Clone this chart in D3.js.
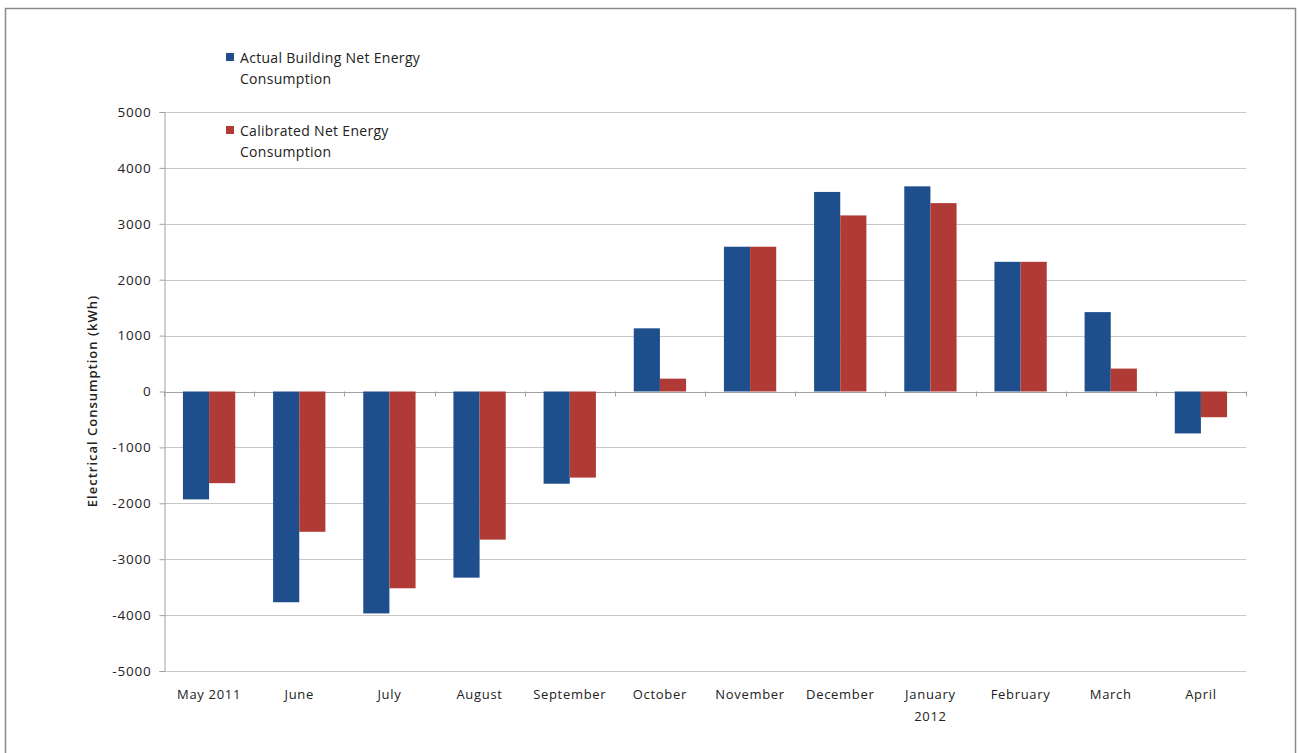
<!DOCTYPE html>
<html><head><meta charset="utf-8">
<script src="https://cdn.jsdelivr.net/npm/d3@7"></script>
<style>body{margin:0;background:#fff;} text{font-family:"Open Sans",Lato,sans-serif;}</style>
</head><body>
<svg id="c" width="1299" height="753"></svg>
<script>
const categories = ["May 2011","June","July","August","September","October","November","December","January\n2012","February","March","April"];
const actual = [-1930,-3770,-3970,-3330,-1650,1130,2590,3570,3670,2320,1420,-750];
const calibrated = [-1640,-2510,-3520,-2650,-1540,230,2590,3150,3370,2320,410,-460];
const yTicks = [5000,4000,3000,2000,1000,0,-1000,-2000,-3000,-4000,-5000];
const seriesNames = ["Actual Building Net Energy\nConsumption","Calibrated Net Energy\nConsumption"];
const colors = ["#1f4e8c","#b03a35"];

const svg = d3.select("#c");
svg.append("rect").attr("x",5.5).attr("y",8.5).attr("width",1290).attr("height",760).attr("fill","#fff").attr("stroke","#8a8a8a").attr("stroke-width",1.5);

const L=164,R=1246,T=112,B=671;
const x = d3.scaleBand().domain(categories).range([L,R]).paddingInner(0.42).paddingOuter(0.21);
const xs = d3.scaleBand().domain([0,1]).range([0,x.bandwidth()]);
const y = d3.scaleLinear().domain([-5000,5000]).range([B,T]);

// gridlines
svg.append("g").selectAll("line").data(yTicks).join("line")
  .attr("x1",L).attr("x2",R).attr("y1",d=>Math.round(y(d))+0.5).attr("y2",d=>Math.round(y(d))+0.5)
  .attr("stroke",d=>d===0?"#a0a0a0":"#c8c8c8").attr("stroke-width",1);
// y axis
const ya = d3.axisLeft(y).tickValues(yTicks).tickSize(5).tickFormat(d=>String(d));
const gy = svg.append("g").attr("transform",`translate(${L+0.5},0)`).call(ya);
gy.select(".domain").attr("stroke","#a0a0a0");
gy.selectAll(".tick line").attr("stroke","#a0a0a0");
gy.selectAll("text").attr("font-size",13.5).attr("letter-spacing",0.8).attr("fill","#222").attr("x",-13).attr("font-family","\"Open Sans\"");

// bars
const data = categories.map((c,i)=>({c,v:[actual[i],calibrated[i]]}));
const g = svg.append("g");
data.forEach(d=>{
  d.v.forEach((v,j)=>{
    g.append("rect").attr("x",x(d.c)+xs(j)).attr("width",xs.bandwidth())
      .attr("y",y(Math.max(0,v))).attr("height",Math.abs(y(v)-y(0))).attr("fill",colors[j]);
  });
});

// tick marks at category boundaries on zero axis
const step = x.step();
svg.append("g").selectAll("line").data(d3.range(categories.length+1)).join("line")
  .attr("x1",i=>Math.round(L+i*step)+0.5).attr("x2",i=>Math.round(L+i*step)+0.5)
  .attr("y1",y(0)).attr("y2",y(0)+5).attr("stroke","#a0a0a0");

// x labels
const xl = svg.append("g");
categories.forEach(c=>{
  const t = xl.append("text").attr("x",x(c)+x.bandwidth()/2).attr("y",699).attr("text-anchor","middle").attr("font-size",13).attr("letter-spacing",0.7).attr("fill","#222");
  c.split("\n").forEach((s,k)=>t.append("tspan").attr("x",x(c)+x.bandwidth()/2).attr("dy",k?22:0).text(s));
});

// y title
svg.append("text").attr("transform",`translate(97,401) rotate(-90)`).attr("text-anchor","middle")
  .attr("font-size",13).attr("font-weight",600).attr("letter-spacing",1).attr("fill","#222").text("Electrical Consumption (kWh)");

// legend
const legY=[63,136];
seriesNames.forEach((n,j)=>{
  svg.append("rect").attr("x",226).attr("y",legY[j]-10).attr("width",8).attr("height",8).attr("fill",colors[j]);
  const t = svg.append("text").attr("x",240).attr("y",legY[j]).attr("font-size",14).attr("letter-spacing",0.3).attr("fill","#222");
  n.split("\n").forEach((s,k)=>t.append("tspan").attr("x",240).attr("dy",k?21:0).text(s));
});
</script>
</body></html>
